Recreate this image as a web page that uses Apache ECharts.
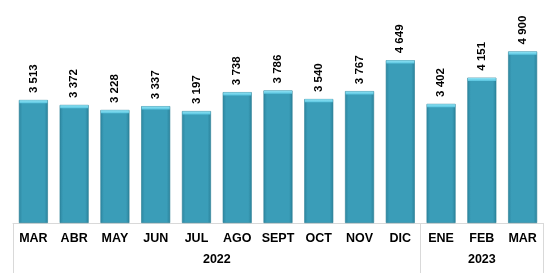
<!DOCTYPE html>
<html><head><meta charset="utf-8">
<script src="https://cdn.jsdelivr.net/npm/echarts@6/dist/echarts.min.js"></script>
<style>html,body{margin:0;padding:0;background:#fff}#c{width:553px;height:273px}</style>
</head><body><div id="c"></div>
<script>
var categories = ['MAR','ABR','MAY','JUN','JUL','AGO','SEPT','OCT','NOV','DIC','ENE','FEB','MAR'];
var values = [3513,3372,3228,3337,3197,3738,3786,3540,3767,4649,3402,4151,4900];
var years = ['2022','2023'];
var yearSpans = [10,3];

var yearCenters = [], yearBounds = [0], acc = 0;
yearSpans.forEach(function(s){ yearCenters.push(acc + s/2); acc += s; yearBounds.push(acc); });

var chart = echarts.init(document.getElementById('c'));
var font = 'Liberation Sans, Arial, sans-serif';
var BW = 29;
chart.setOption({
  animation:false,
  grid:{left:13,right:10,top:0,bottom:50},
  xAxis:[{
    type:'category', data:categories,
    axisLine:{lineStyle:{color:'#d9d9d9',width:1}},
    axisTick:{show:false},
    axisLabel:{color:'#000',fontWeight:'bold',fontSize:12.5,fontFamily:font,margin:9,interval:0}
  },{
    type:'value', min:0, max:13, position:'bottom',
    axisLine:{show:false}, splitLine:{show:false},
    axisTick:{show:true, customValues:yearBounds, length:50, lineStyle:{color:'#d9d9d9'}},
    axisLabel:{customValues:yearCenters, color:'#000',fontWeight:'bold',fontSize:12.5,fontFamily:font,margin:30,
      formatter:function(v){ var i=yearCenters.indexOf(v); return i>=0?years[i]:''; }}
  }],
  yAxis:{type:'value',min:0,max:6370,show:false,splitLine:{show:false}},
  series:[{
    type:'bar', data:values, barWidth:BW, xAxisIndex:0,
    itemStyle:{
      color:new echarts.graphic.LinearGradient(0,0,1,0,[
        {offset:0,color:'#2d86a0'},{offset:0.12,color:'#3a9db8'},{offset:0.88,color:'#3a9db8'},{offset:1,color:'#2b829b'}]),
      borderColor:'#2a7d94',borderWidth:0.6
    },
    label:{show:true,position:'top',rotate:90,distance:7,align:'left',verticalAlign:'middle',
      color:'#000',fontWeight:'bold',fontSize:11.5,fontFamily:font,
      formatter:function(p){ return String(p.value).replace(/\B(?=(\d{3})+(?!\d))/g,' '); }}
  },{
    type:'custom', xAxisIndex:0, data:values, silent:true, z:3,
    renderItem:function(params, api){
      var p = api.coord([api.value(0), api.value(1)]);
      return {type:'rect', shape:{x:p[0]-BW/2+0.5, y:p[1]+0.3, width:BW-1, height:3},
        style:{fill:new echarts.graphic.LinearGradient(0,0,0,1,[{offset:0,color:'#8fe3f5'},{offset:1,color:'#58c4df'}])}};
    },
    encode:{x:0,y:1}
  }]
});
chart.setOption({series:[{},{data:values.map(function(v,i){return [i,v];})}]});
</script></body></html>
